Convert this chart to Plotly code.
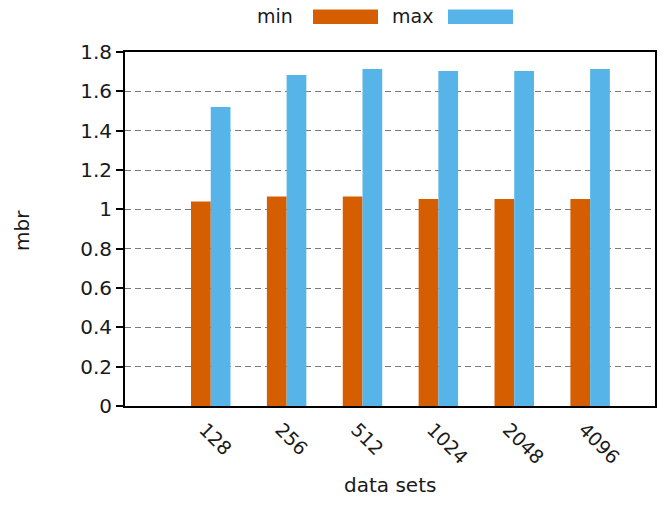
import plotly.graph_objects as go

categories = ["128", "256", "512", "1024", "2048", "4096"]
min_values = [1.04, 1.065, 1.065, 1.053, 1.053, 1.053]
max_values = [1.52, 1.683, 1.713, 1.703, 1.703, 1.713]
series_names = ["min", "max"]
series_colors = ["#D55E00", "#56B4E9"]
y_ticks = [0, 0.2, 0.4, 0.6, 0.8, 1.0, 1.2, 1.4, 1.6, 1.8]
y_tick_labels = ["0", "0.2", "0.4", "0.6", "0.8", "1", "1.2", "1.4", "1.6", "1.8"]

W, H = 664, 505
L, R, T, B = 125, 655, 51.5, 406.5
PW, PH = R - L, B - T

def px(x):
    return (x - L) / PW

def py(y):
    return (B - y) / PH

xpos = [i + 1 for i, _ in enumerate(categories)]
FONT = "DejaVu Sans"
TXT = "#1a1a1a"

fig = go.Figure()
for name, vals, col in zip(series_names, [min_values, max_values], series_colors):
    fig.add_trace(go.Bar(x=xpos, y=vals, name=name, marker=dict(color=col, line=dict(width=0)),
                         showlegend=False))

fig.update_layout(
    width=W, height=H,
    margin=dict(l=L, r=W - R, t=T, b=H - B, autoexpand=False),
    plot_bgcolor="white", paper_bgcolor="white",
    barmode="group", bargap=0.48, bargroupgap=0,
    font=dict(family=FONT, size=20, color=TXT),
    xaxis=dict(
        range=[-0.13, 6.855], tickmode="array", tickvals=xpos, ticktext=categories,
        tickangle=45, ticks="", showgrid=False, zeroline=False,
        ticklabelshift=-6, ticklabelstandoff=3,
        showline=True, linecolor="black", linewidth=2, mirror=True,
        tickfont=dict(family=FONT, size=19, color=TXT), automargin=False,
    ),
    yaxis=dict(
        range=[0, 1.8], tickmode="array", tickvals=y_ticks, ticktext=y_tick_labels,
        ticks="outside", ticklen=7, tickwidth=1.5, tickcolor="black",
        showgrid=True, gridcolor="#7a7a7a", gridwidth=1, griddash="6px,4px",
        zeroline=False, showline=True, linecolor="black", linewidth=2, mirror=True,
        tickfont=dict(family=FONT, size=20, color=TXT), automargin=False,
    ),
)

# axis titles
fig.add_annotation(text="data sets", xref="paper", yref="paper", x=px(390), y=py(486),
                   xanchor="center", yanchor="middle", showarrow=False,
                   font=dict(family=FONT, size=20, color=TXT))
fig.add_annotation(text="mbr", xref="paper", yref="paper", x=px(22), y=py(231),
                   xanchor="center", yanchor="middle", showarrow=False, textangle=-90,
                   font=dict(family=FONT, size=20, color=TXT))

# legend (gnuplot style: label then swatch)
leg_text_right = [295, 435]
leg_sw = [(313, 378), (448, 513)]
for name, col, tx, (x0, x1) in zip(series_names, series_colors, leg_text_right, leg_sw):
    fig.add_annotation(text=name, xref="paper", yref="paper", x=px(tx), y=py(15),
                       xanchor="right", yanchor="middle", showarrow=False,
                       font=dict(family=FONT, size=19, color=TXT))
    fig.add_shape(type="rect", xref="paper", yref="paper", x0=px(x0), x1=px(x1),
                  y0=py(23.5), y1=py(9), fillcolor=col, line=dict(width=0))

fig.write_html("out.html")
